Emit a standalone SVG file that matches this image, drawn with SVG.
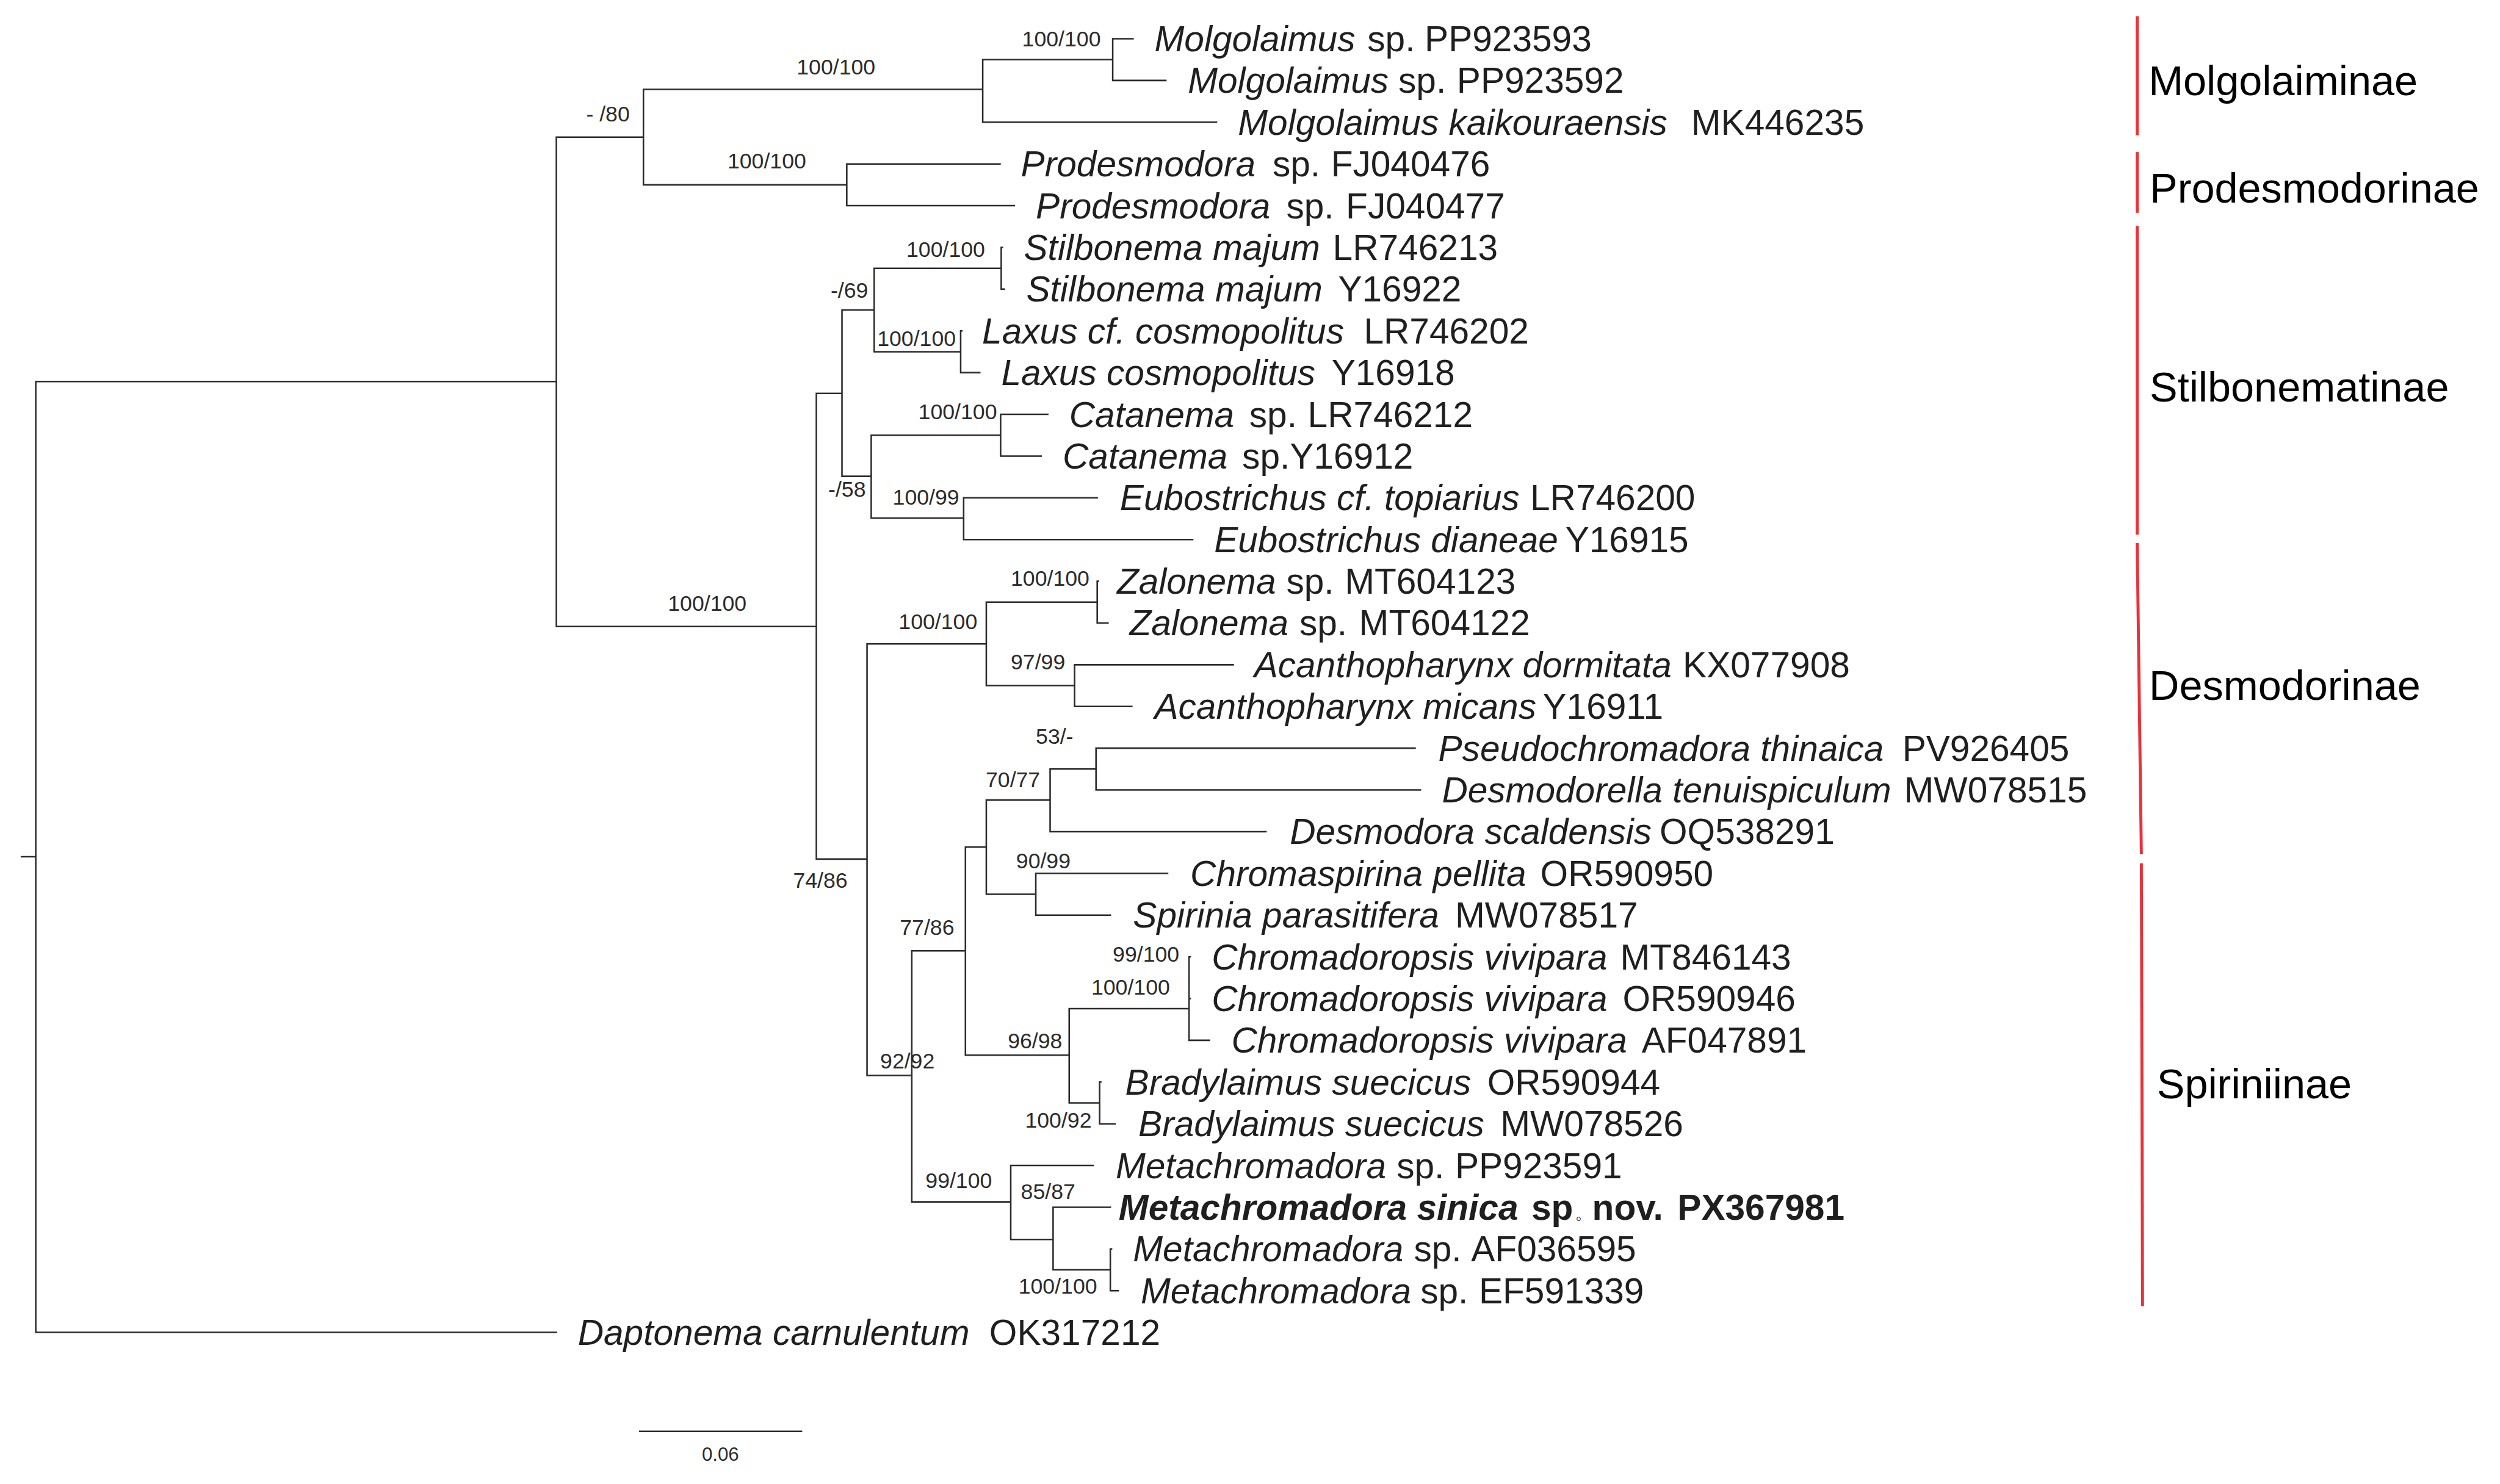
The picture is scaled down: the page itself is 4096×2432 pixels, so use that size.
<svg xmlns="http://www.w3.org/2000/svg" width="4096" height="2432" viewBox="0 0 4096 2432">
<style>
.br{fill:none;stroke:#2b2b2b;stroke-width:2.6;stroke-linecap:square}
.red{fill:none;stroke:#e8323a;stroke-width:5}
.leaf{font-family:"Liberation Sans",Arial,sans-serif;font-size:60px;fill:#1f1f1f}
.leaf .i{font-style:italic}
.bold{font-weight:bold}
.sup{font-family:"Liberation Sans",Arial,sans-serif;font-size:36.5px;fill:#2b2b2b}
.clade{font-family:"Liberation Sans",Arial,sans-serif;font-size:70px;fill:#000}
</style>
<rect width="4096" height="2432" fill="#fff"/>
<g transform="scale(0.977)">
<g id="connectors">
<path class="br" d="M36,1437H60 M60,640V2235 M60,640H933 M60,2235H933
M933,230V1051 M933,230H1079 M933,1051H1369
M1079,150V310 M1079,150H1648 M1079,310H1420
M1648,100V205 M1648,100H1866 M1648,205H2040
M1866,65V135 M1866,65H1900 M1866,135H1955
M1420,275V345 M1420,275H1677 M1420,345H1701
M1369,660V1441 M1369,660H1412 M1369,1441H1454
M1412,520V799 M1412,520H1466 M1412,799H1461
M1466,450V590 M1466,450H1679 M1466,590H1611
M1679,415V485 M1679,415H1681 M1679,485H1684
M1611,555V625 M1611,555H1613 M1611,625H1643
M1461,730V869 M1461,730H1678 M1461,869H1616
M1678,695V765 M1678,695H1757 M1678,765H1746
M1616,835V905 M1616,835H1840 M1616,905H2000
M1454,1080V1804 M1454,1080H1654 M1454,1804H1529
M1654,1010V1150 M1654,1010H1840 M1654,1150H1802
M1840,975V1045 M1840,975H1842 M1840,1045H1858
M1802,1115V1185 M1802,1115H2068 M1802,1185H1898
M1529,1595V2016 M1529,1595H1619 M1529,2016H1695
M1619,1421V1770 M1619,1421H1654 M1619,1770H1793
M1654,1342V1500 M1654,1342H1761 M1654,1500H1737
M1761,1290V1395 M1761,1290H1838 M1761,1395H2123
M1838,1255V1325 M1838,1255H2373 M1838,1325H2382
M1737,1465V1535 M1737,1465H1958 M1737,1535H1862
M1793,1692V1850 M1793,1692H1994 M1793,1850H1844
M1994,1605V1745 M1994,1605H1996 M1994,1675H1996 M1994,1745H2028
M1844,1815V1885 M1844,1815H1846 M1844,1885H1870
M1695,1955V2079 M1695,1955H1833 M1695,2079H1766
M1766,2025V2130 M1766,2025H1862 M1766,2130H1862
M1862,2095V2165 M1862,2095H1864 M1862,2165H1875"/>
</g>
<g id="support">
<text class="sup" x="983" y="204">- /80</text>
<text class="sup" x="1336" y="125">100/100</text>
<text class="sup" x="1714" y="78">100/100</text>
<text class="sup" x="1220" y="283">100/100</text>
<text class="sup" x="1520" y="431">100/100</text>
<text class="sup" x="1393" y="499">-/69</text>
<text class="sup" x="1471" y="580">100/100</text>
<text class="sup" x="1540" y="703">100/100</text>
<text class="sup" x="1389" y="833">-/58</text>
<text class="sup" x="1497" y="846">100/99</text>
<text class="sup" x="1120" y="1025">100/100</text>
<text class="sup" x="1330" y="1489">74/86</text>
<text class="sup" x="1695" y="983">100/100</text>
<text class="sup" x="1507" y="1055">100/100</text>
<text class="sup" x="1695" y="1123">97/99</text>
<text class="sup" x="1737" y="1248">53/-</text>
<text class="sup" x="1653" y="1320">70/77</text>
<text class="sup" x="1704" y="1457">90/99</text>
<text class="sup" x="1509" y="1568">77/86</text>
<text class="sup" x="1866" y="1613">99/100</text>
<text class="sup" x="1830" y="1668">100/100</text>
<text class="sup" x="1690" y="1758">96/98</text>
<text class="sup" x="1476" y="1792">92/92</text>
<text class="sup" x="1719" y="1892">100/92</text>
<text class="sup" x="1552" y="1993">99/100</text>
<text class="sup" x="1712" y="2011">85/87</text>
<text class="sup" x="1708" y="2170">100/100</text>
</g>
<g id="leaf-PP923593"><text class="leaf" x="1936" y="86"><tspan class="i">Molgolaimus</tspan><tspan x="2293">sp.</tspan><tspan x="2389">PP923593</tspan></text></g>
<g id="leaf-PP923592"><text class="leaf" x="1992" y="156"><tspan class="i">Molgolaimus</tspan><tspan x="2345">sp.</tspan><tspan x="2443">PP923592</tspan></text></g>
<g id="leaf-MK446235"><text class="leaf" x="2076" y="226"><tspan class="i">Molgolaimus kaikouraensis</tspan><tspan x="2836">MK446235</tspan></text></g>
<g id="leaf-FJ040476"><text class="leaf" x="1712" y="296"><tspan class="i">Prodesmodora</tspan><tspan x="2134">sp.</tspan><tspan x="2232">FJ040476</tspan></text></g>
<g id="leaf-FJ040477"><text class="leaf" x="1737" y="366"><tspan class="i">Prodesmodora</tspan><tspan x="2157">sp.</tspan><tspan x="2257">FJ040477</tspan></text></g>
<g id="leaf-LR746213"><text class="leaf" x="1717" y="436"><tspan class="i">Stilbonema majum</tspan><tspan x="2235">LR746213</tspan></text></g>
<g id="leaf-Y16922"><text class="leaf" x="1721" y="506"><tspan class="i">Stilbonema majum</tspan><tspan x="2244">Y16922</tspan></text></g>
<g id="leaf-LR746202"><text class="leaf" x="1647" y="576"><tspan class="i">Laxus cf. cosmopolitus</tspan><tspan x="2287">LR746202</tspan></text></g>
<g id="leaf-Y16918"><text class="leaf" x="1679" y="646"><tspan class="i">Laxus cosmopolitus</tspan><tspan x="2233">Y16918</tspan></text></g>
<g id="leaf-LR746212"><text class="leaf" x="1793" y="716"><tspan class="i">Catanema</tspan><tspan x="2095">sp.</tspan><tspan x="2193">LR746212</tspan></text></g>
<g id="leaf-Y16912"><text class="leaf" x="1782" y="786"><tspan class="i">Catanema</tspan><tspan x="2083">sp.Y16912</tspan></text></g>
<g id="leaf-LR746200"><text class="leaf" x="1878" y="856"><tspan class="i">Eubostrichus cf. topiarius</tspan><tspan x="2566">LR746200</tspan></text></g>
<g id="leaf-Y16915"><text class="leaf" x="2036" y="926"><tspan class="i">Eubostrichus dianeae</tspan><tspan x="2625">Y16915</tspan></text></g>
<g id="leaf-MT604123"><text class="leaf" x="1873" y="996"><tspan class="i">Zalonema</tspan><tspan x="2157">sp.</tspan><tspan x="2255">MT604123</tspan></text></g>
<g id="leaf-MT604122"><text class="leaf" x="1894" y="1066"><tspan class="i">Zalonema</tspan><tspan x="2179">sp.</tspan><tspan x="2279">MT604122</tspan></text></g>
<g id="leaf-KX077908"><text class="leaf" x="2103" y="1136"><tspan class="i">Acanthopharynx dormitata</tspan><tspan x="2822">KX077908</tspan></text></g>
<g id="leaf-Y16911"><text class="leaf" x="1936" y="1206"><tspan class="i">Acanthopharynx micans</tspan><tspan x="2587">Y16911</tspan></text></g>
<g id="leaf-PV926405"><text class="leaf" x="2412" y="1276"><tspan class="i">Pseudochromadora thinaica</tspan><tspan x="3190">PV926405</tspan></text></g>
<g id="leaf-MW078515"><text class="leaf" x="2418" y="1346"><tspan class="i">Desmodorella tenuispiculum</tspan><tspan x="3193">MW078515</tspan></text></g>
<g id="leaf-OQ538291"><text class="leaf" x="2163" y="1416"><tspan class="i">Desmodora scaldensis</tspan><tspan x="2783">OQ538291</tspan></text></g>
<g id="leaf-OR590950"><text class="leaf" x="1996" y="1486"><tspan class="i">Chromaspirina pellita</tspan><tspan x="2583">OR590950</tspan></text></g>
<g id="leaf-MW078517"><text class="leaf" x="1900" y="1556"><tspan class="i">Spirinia parasitifera</tspan><tspan x="2440">MW078517</tspan></text></g>
<g id="leaf-MT846143"><text class="leaf" x="2032" y="1626"><tspan class="i">Chromadoropsis vivipara</tspan><tspan x="2717">MT846143</tspan></text></g>
<g id="leaf-OR590946"><text class="leaf" x="2032" y="1696"><tspan class="i">Chromadoropsis vivipara</tspan><tspan x="2721">OR590946</tspan></text></g>
<g id="leaf-AF047891"><text class="leaf" x="2065" y="1766"><tspan class="i">Chromadoropsis vivipara</tspan><tspan x="2753">AF047891</tspan></text></g>
<g id="leaf-OR590944"><text class="leaf" x="1887" y="1836"><tspan class="i">Bradylaimus suecicus</tspan><tspan x="2494">OR590944</tspan></text></g>
<g id="leaf-MW078526"><text class="leaf" x="1909" y="1906"><tspan class="i">Bradylaimus suecicus</tspan><tspan x="2516">MW078526</tspan></text></g>
<g id="leaf-PP923591"><text class="leaf" x="1871" y="1976"><tspan class="i">Metachromadora</tspan><tspan x="2342">sp.</tspan><tspan x="2440">PP923591</tspan></text></g>
<g id="leaf-PX367981"><text class="leaf bold" x="1876" y="2046"><tspan class="i">Metachromadora sinica</tspan><tspan x="2568">sp</tspan><tspan x="2643" font-size="22" font-family="'Noto Sans CJK SC',sans-serif" font-weight="normal">。</tspan><tspan x="2670">nov.</tspan><tspan x="2813">PX367981</tspan></text></g>
<g id="leaf-AF036595"><text class="leaf" x="1900" y="2116"><tspan class="i">Metachromadora</tspan><tspan x="2371">sp.</tspan><tspan x="2467">AF036595</tspan></text></g>
<g id="leaf-EF591339"><text class="leaf" x="1913" y="2186"><tspan class="i">Metachromadora</tspan><tspan x="2382">sp.</tspan><tspan x="2480">EF591339</tspan></text></g>
<g id="leaf-OK317212"><text class="leaf" x="969" y="2256"><tspan class="i">Daptonema carnulentum</tspan><tspan x="1659">OK317212</tspan></text></g>
<g id="clade-Molgolaiminae"><path class="red" d="M3584,27V227"/><text class="clade" x="3603" y="160">Molgolaiminae</text></g>
<g id="clade-Prodesmodorinae"><path class="red" d="M3584,255V357"/><text class="clade" x="3605" y="340">Prodesmodorinae</text></g>
<g id="clade-Stilbonematinae"><path class="red" d="M3584,379V897"/><text class="clade" x="3605" y="673">Stilbonematinae</text></g>
<g id="clade-Desmodorinae"><path class="red" d="M3584,911L3591,1433"/><text class="clade" x="3604" y="1174">Desmodorinae</text></g>
<g id="clade-Spiriniinae"><path class="red" d="M3591,1448L3593,2191"/><text class="clade" x="3617" y="1842">Spiriniinae</text></g>
<g id="scale-bar"><path class="br" d="M1073,2401H1344"/><text class="sup" x="1177" y="2450" style="font-size:32px">0.06</text></g>
</g>
</svg>
